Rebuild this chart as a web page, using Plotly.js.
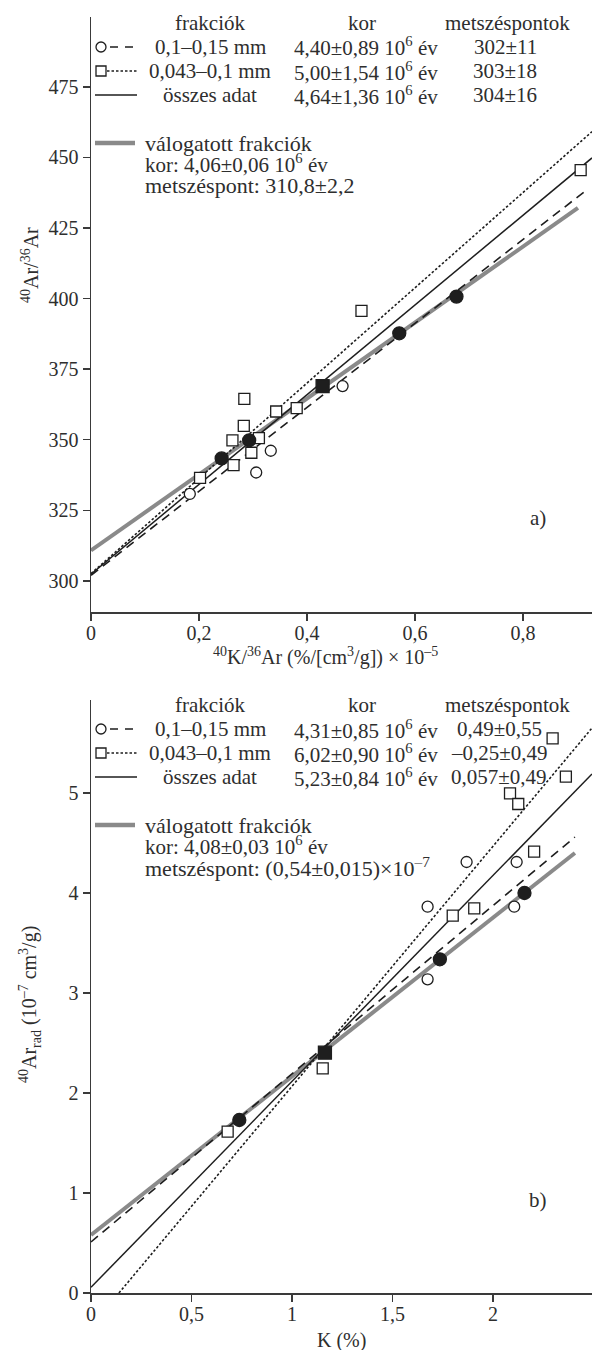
<!DOCTYPE html>
<html>
<head>
<meta charset="utf-8">
<script src="https://cdn.plot.ly/plotly-3.0.1.min.js"></script>
<style>html,body{margin:0;padding:0;background:#fff;}#chart{width:592px;height:1350px;}</style>
</head>
<body>
<div id="chart"></div>
<script>
// ---------- Panel a) data ----------
const aCircleX = [0.183, 0.306, 0.333, 0.466];
const aCircleY = [330.8, 338.4, 346.1, 369.0];
const aSquareX = [0.202, 0.264, 0.262, 0.283, 0.284, 0.297, 0.311, 0.343, 0.381, 0.501, 0.907];
const aSquareY = [336.5, 341.0, 349.8, 354.9, 364.5, 345.4, 350.6, 360.0, 361.2, 395.6, 445.5];
const aSelCircleX = [0.242, 0.293, 0.571, 0.677];
const aSelCircleY = [343.4, 349.8, 387.7, 400.7];
const aSelSquareX = [0.429];
const aSelSquareY = [369.0];
// fitted lines (end points)
const aDashedX = [0, 0.915], aDashedY = [302.0, 438.0];
const aDottedX = [0, 0.928], aDottedY = [302.6, 459.1];
const aSolidX  = [0, 0.928], aSolidY  = [302.4, 449.8];
const aGrayX   = [0, 0.902], aGrayY   = [310.8, 432.1];
const aXTickVals = [0, 0.2, 0.4, 0.6, 0.8];
const aXTickText = ['0', '0,2', '0,4', '0,6', '0,8'];
const aYTickVals = [300, 325, 350, 375, 400, 425, 450, 475];

// ---------- Panel b) data ----------
const bCircleX = [1.675, 1.675, 1.869, 2.118, 2.106];
const bCircleY = [3.863, 3.137, 4.31, 4.31, 3.863];
const bSquareX = [0.68, 1.153, 1.80, 1.907, 2.205, 2.085, 2.126, 2.363, 2.297, 2.076];
const bSquareY = [1.613, 2.247, 3.773, 3.847, 4.413, 4.997, 4.89, 5.163, 5.547, 5.98];
const bSelCircleX = [0.738, 1.736, 2.157];
const bSelCircleY = [1.73, 3.337, 4.0];
const bSelSquareX = [1.164];
const bSelSquareY = [2.403];
const bDashedX = [0, 2.408],     bDashedY = [0.51, 4.56];
const bDottedX = [0.139, 2.493], bDottedY = [0, 5.65];
const bSolidX  = [0, 2.493],     bSolidY  = [0.057, 5.19];
const bGrayX   = [0, 2.408],     bGrayY   = [0.58, 4.40];
const bXTickVals = [0, 0.5, 1, 1.5, 2];
const bXTickText = ['0', '0,5', '1', '1,5', '2'];
const bYTickVals = [0, 1, 2, 3, 4, 5];

// ---------- legend texts ----------
const legHead = ['frakciók', 'kor', 'metszéspontok'];
const legNames = ['0,1–0,15 mm', '0,043–0,1 mm', 'összes adat'];
const aAges = ['4,40±0,89 10<sup>6</sup> év', '5,00±1,54 10<sup>6</sup> év', '4,64±1,36 10<sup>6</sup> év'];
const aIcpt = ['302±11', '303±18', '304±16'];
const aSel = ['válogatott frakciók', 'kor: 4,06±0,06 10<sup>6</sup> év', 'metszéspont: 310,8±2,2'];
const bAges = ['4,31±0,85 10<sup>6</sup> év', '6,02±0,90 10<sup>6</sup> év', '5,23±0,84 10<sup>6</sup> év'];
const bIcpt = ['0,49±0,55', '–0,25±0,49', '0,057±0,49'];
const bSel = ['válogatott frakciók', 'kor: 4,08±0,03 10<sup>6</sup> év', 'metszéspont: (0,54±0,015)×10<sup>–7</sup>'];

// ---------- styles ----------
const FONT = 'Liberation Serif';
const TXT = '#2e2e2e';
const BLK = '#1e1e1e';
const GRAY = '#8a8a8a';

function lineTr(x, y, xa, ya, opts) {
  return Object.assign({type:'scatter', mode:'lines', x:x, y:y, xaxis:xa, yaxis:ya, hoverinfo:'skip', showlegend:false}, opts);
}
function markTr(x, y, xa, ya, sym, size, fill) {
  return {type:'scatter', mode:'markers', x:x, y:y, xaxis:xa, yaxis:ya, showlegend:false, cliponaxis:false,
    marker:{symbol:sym, size:size, color:fill, line:{color:BLK, width:1.3}}};
}

const traces = [
  lineTr(aGrayX, aGrayY, 'x', 'y', {line:{color:GRAY, width:4}}),
  lineTr(aDashedX, aDashedY, 'x', 'y', {line:{color:BLK, width:1.6, dash:'9px,6px'}}),
  lineTr(aSolidX, aSolidY, 'x', 'y', {line:{color:BLK, width:1.5}}),
  lineTr(aDottedX, aDottedY, 'x', 'y', {line:{color:BLK, width:1.6, dash:'2.5px,2px'}}),
  markTr(aCircleX, aCircleY, 'x', 'y', 'circle', 11, '#fff'),
  markTr(aSquareX, aSquareY, 'x', 'y', 'square', 11, '#fff'),
  markTr(aSelCircleX, aSelCircleY, 'x', 'y', 'circle', 13, BLK),
  markTr(aSelSquareX, aSelSquareY, 'x', 'y', 'square', 13, BLK),

  lineTr(bGrayX, bGrayY, 'x2', 'y2', {line:{color:GRAY, width:4}}),
  lineTr(bDashedX, bDashedY, 'x2', 'y2', {line:{color:BLK, width:1.6, dash:'9px,6px'}}),
  lineTr(bSolidX, bSolidY, 'x2', 'y2', {line:{color:BLK, width:1.5}}),
  lineTr(bDottedX, bDottedY, 'x2', 'y2', {line:{color:BLK, width:1.6, dash:'2.5px,2px'}}),
  markTr(bCircleX, bCircleY, 'x2', 'y2', 'circle', 11, '#fff'),
  markTr(bSquareX, bSquareY, 'x2', 'y2', 'square', 11, '#fff'),
  markTr(bSelCircleX, bSelCircleY, 'x2', 'y2', 'circle', 13, BLK),
  markTr(bSelSquareX, bSelSquareY, 'x2', 'y2', 'square', 13, BLK)
];

// layout geometry (pixels)
const W = 592, H = 1350, ML = 91, MR = 0, MT = 17, MB = 57;
const PW = W - ML - MR, PH = H - MT - MB;
function ax(px) { return (px - ML) / PW; }
function ay(py) { return (H - MB - py) / PH; }

const axisCommon = {
  showline:true, linecolor:'#3a3a3a', linewidth:1.5, ticks:'outside', ticklen:7, tickwidth:1.5,
  tickcolor:'#3a3a3a', showgrid:false, zeroline:false, mirror:false,
  tickfont:{family:FONT, size:20, color:TXT}
};

const annotations = [];
const shapes = [];
function txt(text, px, py, anchor, size, extra) {
  annotations.push(Object.assign({text:text, xref:'paper', yref:'paper', x:ax(px), y:ay(py),
    xanchor:anchor, yanchor:'middle', showarrow:false, font:{family:FONT, size:size || 21, color:TXT}}, extra || {}));
}
function seg(x0, x1, py, color, width, dash) {
  shapes.push({type:'line', xref:'paper', yref:'paper', x0:ax(x0), x1:ax(x1), y0:ay(py), y1:ay(py),
    line:{color:color, width:width, dash:dash || 'solid'}});
}
function box(type, cx, cy, r) {
  shapes.push({type:type, xref:'paper', yref:'paper', x0:ax(cx - r), x1:ax(cx + r), y0:ay(cy + r), y1:ay(cy - r),
    line:{color:BLK, width:1.3}, fillcolor:'#fff'});
}

function legendBlock(off, ages, icpt, sel, icptX) {
  txt(legHead[0], 210, 23 + off, 'center');
  txt(legHead[1], 362, 23 + off, 'center');
  txt(legHead[2], 507, 23 + off, 'center');
  const rows = [47, 71, 95];
  for (let i = 0; i < 3; i++) {
    txt(legNames[i], 210, rows[i] + off, 'center');
    txt(ages[i], 292, rows[i] + off, 'left');
    txt(icpt[i], icptX, rows[i] + off, 'center');
  }
  box('circle', 101, 47 + off, 5);
  seg(110, 137, 47 + off, BLK, 1.6, '8px,7px');
  box('rect', 101, 71 + off, 5);
  seg(107, 137, 71 + off, BLK, 1.6, '2.5px,2px');
  seg(95, 137, 95 + off, BLK, 1.6);
  seg(95, 135, 143 + off, GRAY, 4.5);
  txt(sel[0], 143, 143 + off, 'left', 22);
  txt(sel[1], 143, 164 + off, 'left', 21);
  txt(sel[2], 143, 185 + off, 'left', 22);
}
legendBlock(0, aAges, aIcpt, aSel, 505);
legendBlock(682, bAges, bIcpt, bSel, 499);

// panel labels
txt('a)', 538, 518, 'center');
txt('b)', 538, 1200, 'center');
// axis titles
txt('<sup>40</sup>Ar/<sup>36</sup>Ar', 30, 265, 'center', 20, {textangle:-90});
txt('<sup>40</sup>K/<sup>36</sup>Ar (%/[cm<sup>3</sup>/g]) × 10<sup>–5</sup>', 325, 657, 'center', 20);
txt('<sup>40</sup>Ar<sub>rad</sub> (10<sup>–7</sup> cm<sup>3</sup>/g)', 30, 1005, 'center', 20, {textangle:-90});
txt('K (%)', 341, 1340, 'center', 20);

const layout = {
  width:W, height:H,
  margin:{l:ML, r:MR, t:MT, b:MB, pad:0},
  paper_bgcolor:'#fff', plot_bgcolor:'#fff',
  showlegend:false,
  font:{family:FONT, color:TXT},
  xaxis: Object.assign({}, axisCommon, {anchor:'y', domain:[0,1], range:[0, 0.928], tickvals:aXTickVals, ticktext:aXTickText, ticklabelstandoff:-5}),
  yaxis: Object.assign({}, axisCommon, {anchor:'x', domain:[ay(612), 1], range:[289.0, 499.7], tickvals:aYTickVals}),
  xaxis2: Object.assign({}, axisCommon, {anchor:'y2', domain:[0,1], range:[0, 2.493], tickvals:bXTickVals, ticktext:bXTickText, ticklabelstandoff:-5}),
  yaxis2: Object.assign({}, axisCommon, {anchor:'x2', domain:[0, ay(700)], range:[0, 5.93], tickvals:bYTickVals}),
  annotations:annotations,
  shapes:shapes
};

Plotly.newPlot('chart', traces, layout, {displayModeBar:false, staticPlot:true});
</script>
</body>
</html>
